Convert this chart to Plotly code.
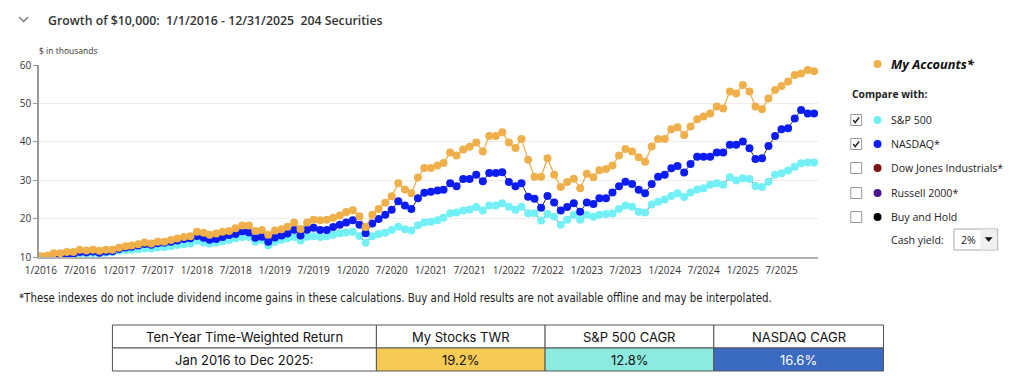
import pandas as pd
import plotly.graph_objects as go

# ---------------- data ----------------
months = pd.date_range("2016-01-01", periods=120, freq="MS")

my_accounts = [10.2, 10.4, 11.0, 11.0, 11.3, 11.3, 11.9, 11.7, 11.9, 11.6, 11.9, 11.9,
               12.4, 12.8, 13.0, 13.3, 13.8, 13.5, 14.0, 14.0, 14.4, 14.8, 15.2, 15.4,
               16.6, 16.3, 15.8, 16.1, 16.6, 16.8, 17.5, 18.2, 18.2, 16.8, 17.0, 15.8,
               16.9, 17.2, 17.9, 19.0, 17.3, 19.0, 19.7, 19.6, 19.7, 20.2, 20.8, 21.7,
               22.2, 20.6, 17.8, 21.0, 22.5, 24.1, 25.8, 29.2, 27.6, 26.6, 30.7, 33.2,
               33.2, 33.8, 34.5, 37.2, 36.4, 38.0, 38.7, 39.8, 37.5, 41.5, 41.5, 42.5,
               39.8, 38.4, 40.7, 35.3, 30.9, 30.9, 35.7, 31.4, 28.2, 29.5, 30.4, 27.9,
               31.7, 30.8, 32.6, 32.9, 33.8, 36.4, 38.1, 37.5, 36.0, 34.8, 38.8, 40.7,
               40.7, 43.3, 43.8, 41.8, 44.0, 45.9, 46.6, 47.4, 49.2, 48.7, 53.1, 52.6,
               54.8, 53.1, 49.2, 48.5, 51.3, 53.5, 54.5, 55.7, 57.4, 57.8, 58.7, 58.4]

nasdaq = [10.0, 10.1, 10.5, 10.5, 10.7, 10.8, 11.3, 11.2, 11.4, 11.1, 11.4, 11.5,
          12.1, 12.5, 12.7, 13.0, 13.4, 13.2, 13.6, 13.7, 14.0, 14.3, 14.7, 14.9,
          15.5, 15.0, 14.5, 14.7, 15.2, 15.7, 16.0, 16.7, 16.4, 15.0, 15.3, 14.0,
          15.1, 15.6, 16.1, 17.1, 15.6, 17.1, 17.6, 17.0, 17.0, 17.8, 18.4, 19.0,
          19.6, 18.4, 16.2, 18.7, 19.9, 21.0, 22.3, 24.5, 23.4, 22.5, 25.3, 26.7,
          27.0, 27.3, 27.5, 29.2, 28.4, 30.3, 30.3, 31.4, 29.7, 31.9, 31.9, 32.1,
          29.5, 28.4, 29.2, 25.7, 25.2, 22.8, 25.9, 24.2, 22.1, 23.0, 24.0, 21.8,
          24.2, 23.8, 25.3, 25.3, 26.8, 28.4, 29.6, 29.0, 27.5, 26.6, 29.0, 30.9,
          31.4, 33.1, 33.7, 32.0, 34.2, 36.1, 36.1, 36.1, 37.2, 37.2, 39.2, 39.2,
          40.1, 38.3, 35.5, 35.7, 38.9, 41.5, 43.3, 43.5, 46.1, 48.3, 47.4, 47.4]

sp500 = [10.0, 10.0, 10.3, 10.4, 10.5, 10.6, 10.9, 10.9, 11.0, 10.8, 11.1, 11.3,
         11.6, 11.8, 11.9, 12.0, 12.2, 12.2, 12.5, 12.6, 12.8, 13.1, 13.3, 13.5,
         14.2, 13.8, 13.5, 13.8, 14.1, 14.4, 14.9, 15.2, 15.2, 14.0, 14.4, 13.0,
         14.0, 14.5, 14.9, 15.2, 14.3, 15.3, 15.4, 15.2, 15.4, 15.8, 16.2, 16.4,
         16.6, 15.5, 13.7, 15.4, 16.0, 16.3, 17.0, 17.9, 17.2, 16.9, 18.3, 19.0,
         19.2, 19.6, 20.2, 21.4, 21.6, 22.1, 22.4, 23.0, 22.1, 23.4, 23.4, 24.0,
         23.1, 22.3, 23.1, 21.4, 21.4, 19.5, 21.2, 20.5, 18.4, 19.7, 21.0, 19.7,
         21.0, 20.5, 21.0, 21.2, 21.3, 22.5, 23.4, 23.1, 21.8, 21.6, 23.7, 24.4,
         25.0, 25.9, 26.6, 25.6, 26.8, 27.6, 27.9, 28.8, 29.2, 28.8, 30.8, 29.9,
         30.5, 30.3, 28.5, 28.2, 29.6, 31.4, 31.8, 32.5, 33.5, 34.4, 34.6, 34.6]

tick_dates = pd.date_range("2016-01-01", periods=20, freq="6MS")
tick_labels = [f"{d.month}/{d.year}" for d in tick_dates]

y_ticks = [10, 20, 30, 40, 50, 60]

title_text = "Growth of $10,000:  1/1/2016 - 12/31/2025  204 Securities"
compare_names = ["S&P 500", "NASDAQ*", "Dow Jones Industrials*", "Russell 2000*", "Buy and Hold"]
compare_checked = [True, True, False, False, False]
compare_colors = ["#72F0F6", "#0B1DF2", "#7B1111", "#4A1490", "#000000"]
footnote = ("*These indexes do not include dividend income gains in these calculations. "
            "Buy and Hold results are not available offline and may be interpolated.")

table_header = ["Ten-Year Time-Weighted Return", "My Stocks TWR", "S&P 500 CAGR", "NASDAQ CAGR"]
table_row = ["Jan 2016 to Dec 2025:", "19.2%", "12.8%", "16.6%"]
table_fill = ["#FFFFFF", "#F6CB55", "#8CEADF", "#3B6AC2"]
table_fontcolor = ["#111111", "#111111", "#111111", "#FFFFFF"]

GOLD = "#EFB04B"
BLUE = "#0B1DF2"
CYAN = "#72F0F6"

# ---------------- figure ----------------
OFF = 8  # default page body margin
W, H = 1024 - OFF, 391 - OFF
L = 33 - OFF
T = 65 - OFF
R = W - (818 - OFF)
B = H - (257 - OFF)
PW, PH = W - L - R, H - T - B


def X(px):  # page pixel -> paper
    return (px - OFF - L) / PW


def Y(py):
    return (H - B - (py - OFF)) / PH


fig = go.Figure()
fig.add_trace(go.Scatter(x=months, y=sp500, mode="lines+markers", name="S&P 500",
                         line=dict(color="#6a6a6a", width=1),
                         marker=dict(color=CYAN, size=8, line=dict(width=0))))
fig.add_trace(go.Scatter(x=months, y=nasdaq, mode="lines+markers", name="NASDAQ",
                         line=dict(color="#333333", width=1),
                         marker=dict(color=BLUE, size=8, line=dict(width=0))))
fig.add_trace(go.Scatter(x=months, y=my_accounts, mode="lines+markers", name="My Accounts",
                         line=dict(color=GOLD, width=1.3),
                         marker=dict(color=GOLD, size=8, line=dict(width=0))))

FONT = "Open Sans, Segoe UI, Liberation Sans, sans-serif"

fig.update_layout(
    width=W, height=H,
    margin=dict(l=L, r=R, t=T, b=B),
    paper_bgcolor="white", plot_bgcolor="white",
    showlegend=False,
    font=dict(family=FONT, size=10, color="#333333"),
    xaxis=dict(type="date", range=["2015-12-23", "2025-12-19"],
               tickvals=list(tick_dates), ticktext=tick_labels,
               showgrid=False, zeroline=False,
               showline=True, linecolor="#b0b0b0", linewidth=2,
               ticks="", ticklabelstandoff=3, tickfont=dict(size=10, color="#333333")),
    yaxis=dict(range=[10, 60], tickvals=y_ticks,
               showgrid=True, gridcolor="#ececec", gridwidth=1, zeroline=False,
               showline=True, linecolor="#999999", linewidth=1.5,
               ticks="outside", ticklen=4, tickcolor="#999999",
               tickfont=dict(size=10, color="#333333")),
)

ann = []
shapes = []

# header chevron + title
shapes.append(dict(type="path", xref="paper", yref="paper",
                   path=f"M {X(13)},{Y(17)} L {X(17.5)},{Y(21.5)} L {X(22)},{Y(17)}",
                   line=dict(color="#777777", width=1.3)))
ann.append(dict(x=X(40), y=Y(20), xref="paper", yref="paper", xanchor="left", yanchor="middle",
                text=title_text, showarrow=False,
                font=dict(family=FONT, size=12.3, color="#333333", weight=600)))
ann.append(dict(x=X(31), y=Y(50), xref="paper", yref="paper", xanchor="left", yanchor="middle",
                text="$ in thousands", showarrow=False,
                font=dict(family=FONT, size=8.5, color="#333333")))

# right-side legend panel
shapes.append(dict(type="circle", xref="paper", yref="paper",
                   x0=X(874), x1=X(882), y0=Y(68), y1=Y(60),
                   fillcolor=GOLD, line=dict(width=0)))
ann.append(dict(x=X(890), y=Y(64), xref="paper", yref="paper", xanchor="left", yanchor="middle",
                text="<b><i>My Accounts*</i></b>", showarrow=False,
                font=dict(family=FONT, size=12.8, color="#111111")))
ann.append(dict(x=X(850), y=Y(94), xref="paper", yref="paper", xanchor="left", yanchor="middle",
                text="<b>Compare with:</b>", showarrow=False,
                font=dict(family=FONT, size=10.3, color="#222222")))
row_y = [120, 144, 168, 193, 217]
for name, chk, col, ry in zip(compare_names, compare_checked, compare_colors, row_y):
    shapes.append(dict(type="rect", xref="paper", yref="paper",
                       x0=X(851), x1=X(862), y0=Y(ry + 5.5), y1=Y(ry - 5.5),
                       fillcolor="white", line=dict(color="#9a9a9a", width=1)))
    if chk:
        shapes.append(dict(type="path", xref="paper", yref="paper",
                           path=f"M {X(853.5)},{Y(ry)} L {X(855.5)},{Y(ry + 2.5)} L {X(859.5)},{Y(ry - 2.5)}",
                           line=dict(color="#222222", width=1.4)))
    shapes.append(dict(type="circle", xref="paper", yref="paper",
                       x0=X(874), x1=X(882), y0=Y(ry + 4), y1=Y(ry - 4),
                       fillcolor=col, line=dict(width=0)))
    ann.append(dict(x=X(890), y=Y(ry), xref="paper", yref="paper", xanchor="left", yanchor="middle",
                    text=name, showarrow=False,
                    font=dict(family=FONT, size=10.6, color="#222222")))

ann.append(dict(x=X(890), y=Y(240), xref="paper", yref="paper", xanchor="left", yanchor="middle",
                text="Cash yield:", showarrow=False,
                font=dict(family=FONT, size=10.6, color="#222222")))
shapes.append(dict(type="rect", xref="paper", yref="paper",
                   x0=X(955), x1=X(999), y0=Y(250), y1=Y(229),
                   fillcolor="white", line=dict(color="#aaaaaa", width=1)))
shapes.append(dict(type="rect", xref="paper", yref="paper",
                   x0=X(982), x1=X(998.5), y0=Y(249.5), y1=Y(229.5),
                   fillcolor="#f0f0f0", line=dict(width=0)))
shapes.append(dict(type="path", xref="paper", yref="paper",
                   path=f"M {X(986.5)},{Y(237.5)} L {X(993.5)},{Y(237.5)} L {X(990)},{Y(241.5)} Z",
                   fillcolor="#111111", line=dict(color="#111111", width=0.5)))
ann.append(dict(x=X(960), y=Y(240), xref="paper", yref="paper", xanchor="left", yanchor="middle",
                text="2%", showarrow=False,
                font=dict(family=FONT, size=10.6, color="#222222")))

# footnote
ann.append(dict(x=X(11), y=Y(298), xref="paper", yref="paper", xanchor="left", yanchor="middle",
                text=footnote, showarrow=False,
                font=dict(family="Liberation Sans Narrow, DejaVu Sans Condensed, Liberation Sans, sans-serif",
                          size=11.4, color="#222222")))

# table
col_x = [107, 373, 543, 713, 884]
row_top, row_mid, row_bot = 325, 348, 371
TFONT = "Inter, Roboto, Liberation Sans, sans-serif"
for i in range(4):
    x0, x1 = col_x[i], col_x[i + 1]
    shapes.append(dict(type="rect", xref="paper", yref="paper",
                       x0=X(x0), x1=X(x1), y0=Y(row_mid), y1=Y(row_top),
                       fillcolor="white", line=dict(color="#555555", width=1)))
    shapes.append(dict(type="rect", xref="paper", yref="paper",
                       x0=X(x0), x1=X(x1), y0=Y(row_bot), y1=Y(row_mid),
                       fillcolor=table_fill[i], line=dict(color="#555555", width=1)))
    cx = (x0 + x1) / 2
    ann.append(dict(x=X(cx), y=Y((row_top + row_mid) / 2), xref="paper", yref="paper",
                    xanchor="center", yanchor="middle", text=table_header[i], showarrow=False,
                    font=dict(family=TFONT, size=13, color="#111111")))
    ann.append(dict(x=X(cx), y=Y((row_mid + row_bot) / 2), xref="paper", yref="paper",
                    xanchor="center", yanchor="middle", text=table_row[i], showarrow=False,
                    font=dict(family=TFONT, size=13, color=table_fontcolor[i])))

fig.update_layout(annotations=ann, shapes=shapes)

fig.write_html("out.html", config={"displayModeBar": False})
